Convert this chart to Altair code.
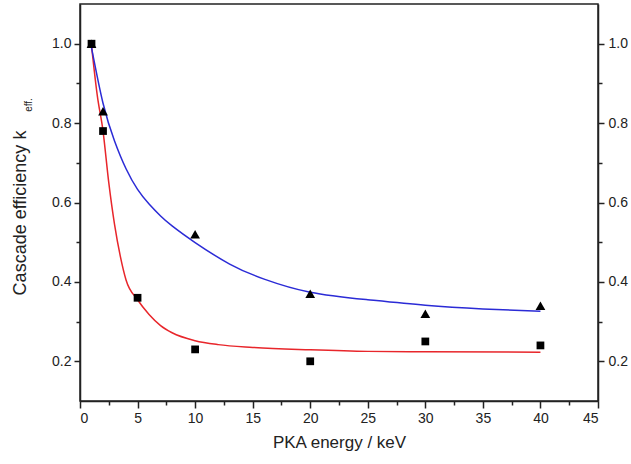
import altair as alt
import pandas as pd

# Measured points
sq_x = [1, 2, 5, 10, 20, 30, 40]
sq_y = [1.0, 0.78, 0.36, 0.23, 0.20, 0.25, 0.24]
tri_x = [1, 2, 10, 20, 30, 40]
tri_y = [1.0, 0.83, 0.52, 0.37, 0.32, 0.34]

# Fitted curves
red_x = [1, 1.5, 2, 2.5, 3, 3.5, 4, 5, 6, 7, 8, 10, 12, 15, 20, 25, 30, 40]
red_y = [0.995, 0.87, 0.78, 0.65, 0.545, 0.465, 0.405, 0.355, 0.318, 0.29, 0.272,
         0.252, 0.242, 0.235, 0.229, 0.225, 0.224, 0.223]
blue_x = [1, 2, 3, 4, 5, 6, 7, 8, 10, 13, 16, 20, 25, 30, 35, 40]
blue_y = [0.99, 0.85, 0.755, 0.685, 0.633, 0.596, 0.566, 0.541, 0.499, 0.445,
          0.407, 0.374, 0.355, 0.341, 0.332, 0.326]

x_ticks = [0, 2.5, 5, 7.5, 10, 12.5, 15, 17.5, 20, 22.5, 25, 27.5, 30, 32.5, 35,
           37.5, 40, 42.5, 45]
y_ticks = [0.2, 0.3, 0.4, 0.5, 0.6, 0.7, 0.8, 0.9, 1.0]

x_title = "PKA energy / keV"
y_title_main = "Cascade efficiency k"
y_title_sub = "eff."

FONT = "Liberation Sans"

sq = pd.DataFrame({"x": sq_x, "y": sq_y})
tri = pd.DataFrame({"x": tri_x, "y": tri_y})
red = pd.DataFrame({"x": red_x, "y": red_y})
blue = pd.DataFrame({"x": blue_x, "y": blue_y})

xscale = alt.Scale(domain=[0, 45], nice=False, zero=False)
yscale = alt.Scale(domain=[0.1, 1.1], nice=False, zero=False)

xaxis = alt.Axis(
    values=x_ticks,
    labelExpr="datum.value % 5 === 0 ? format(datum.value, 'd') : ''",
    tickSize={"condition": {"test": "datum.value % 5 === 0", "value": 7}, "value": 4},
    grid=False, domainColor="#222", domainWidth=1.5, tickColor="#222", tickWidth=1.5,
    labelFont=FONT, labelFontSize=14, labelColor="#222", labelPadding=3,
    title=x_title, titleFont=FONT, titleFontSize=17, titleFontWeight="normal",
    titleColor="#222", titlePadding=9,
)
ytest = "round(datum.value*10) % 2 === 0"
yaxis_left = alt.Axis(
    orient="left", values=y_ticks,
    labelExpr=ytest + " ? format(datum.value, '.1f') : ''",
    tickSize={"condition": {"test": ytest, "value": 6}, "value": 4},
    grid=False, domainColor="#222", domainWidth=1.5, tickColor="#222", tickWidth=1.5,
    labelFont=FONT, labelFontSize=14, labelColor="#222", labelPadding=3,
    title=None,
)
yaxis_right = alt.Axis(
    orient="right", values=y_ticks,
    labelExpr=ytest + " ? format(datum.value, '.1f') : ''",
    tickSize={"condition": {"test": ytest, "value": 6}, "value": 4},
    grid=False, domainColor="#222", domainWidth=1.5, tickColor="#222", tickWidth=1.5,
    labelFont=FONT, labelFontSize=14, labelColor="#222", labelPadding=4,
    title=None,
)

X = alt.X("x:Q", scale=xscale, axis=xaxis)
Y = alt.Y("y:Q", scale=yscale, axis=yaxis_left)

red_line = alt.Chart(red).mark_line(color="#e8262b", strokeWidth=1.5, interpolate="monotone").encode(x=X, y=Y)
blue_line = alt.Chart(blue).mark_line(color="#2b2bd6", strokeWidth=1.5, interpolate="natural").encode(x=X, y=Y)
tri_pts = alt.Chart(tri).mark_point(shape="triangle-up", filled=True, color="black", opacity=1, size=95).encode(x=X, y=Y)
sq_pts = alt.Chart(sq).mark_point(shape="square", filled=True, color="black", opacity=1, size=60).encode(x=X, y=Y)

t_main = alt.Chart(pd.DataFrame({"t": [y_title_main]})).mark_text(
    angle=270, font=FONT, fontSize=18, color="#222", align="center", baseline="middle"
).encode(text="t:N", x=alt.value(-59), y=alt.value(209))
t_sub = alt.Chart(pd.DataFrame({"t": [y_title_sub]})).mark_text(
    angle=270, font=FONT, fontSize=10, color="#222", align="center", baseline="middle"
).encode(text="t:N", x=alt.value(-51), y=alt.value(101))

main = alt.layer(red_line, blue_line, tri_pts, sq_pts, t_main, t_sub)

right = alt.Chart(tri).mark_point(opacity=0).encode(
    x=X, y=alt.Y("y:Q", scale=yscale, axis=yaxis_right)
)

chart = alt.layer(main, right).resolve_scale(y="independent").properties(
    width=518, height=397,
    autosize=alt.AutoSizeParams(type="none"),
    padding={"left": 80, "top": 4, "right": 33, "bottom": 63},
    background="white",
).configure_view(stroke="#222", strokeWidth=1.5)

chart.save("out.html", embed_options={"renderer": "svg", "actions": False})
